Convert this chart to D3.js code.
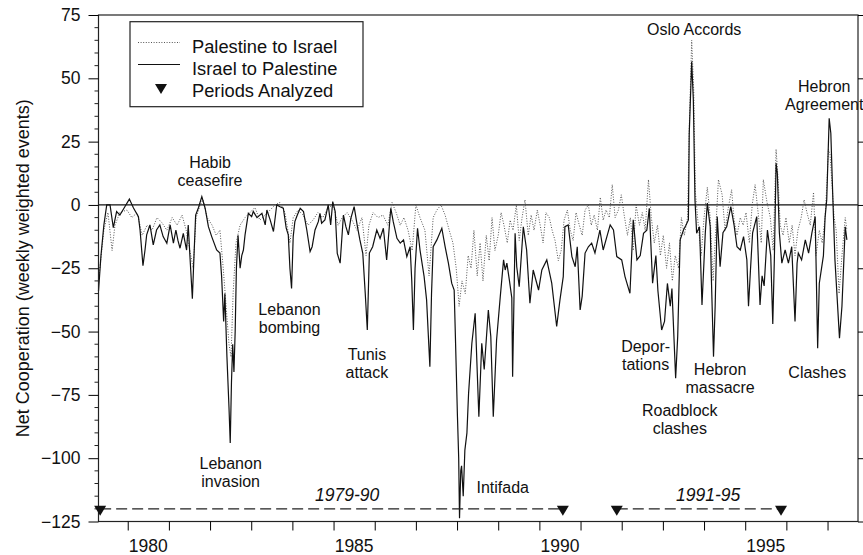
<!DOCTYPE html>
<html lang="en">
<head>
  <meta charset="UTF-8">
  <title>Net Cooperation</title>
  <script src="https://d3js.org/d3.v7.min.js"></script>
  <style>
    body { margin: 0; background: #fff; }
    text { font-family: "Liberation Sans", Arial, sans-serif; fill: #111; }
  </style>
</head>
<body>
<svg id="chart"></svg>
<script>
  // Israel to Palestine (solid) : [decimal year, net cooperation]
  const israelToPalestine = [
    [1979.29,-34],[1979.35,-20],[1979.42,-8],[1979.49,0],[1979.57,0],[1979.65,-9],[1979.73,-2.6],[1979.81,-4],
    [1979.93,-0.7],[1980.04,2.3],[1980.14,-1.2],[1980.26,-4.6],[1980.30,-10],[1980.37,-24],[1980.42,-17.8],[1980.46,-11.8],
    [1980.54,-7.9],[1980.62,-15.8],[1980.70,-9.9],[1980.78,-7.9],[1980.86,-12.5],[1980.95,-15.1],[1981.03,-7.9],[1981.11,-15.1],
    [1981.17,-9.9],[1981.22,-14],[1981.27,-17.1],[1981.35,-11.2],[1981.43,-17.8],[1981.47,-7.9],[1981.51,-20],[1981.57,-37],
    [1981.61,-20],[1981.65,-4],[1981.72,-1],[1981.80,3.3],[1981.88,-1.3],[1981.96,-8.6],[1982.04,-12.5],[1982.16,-17.8],
    [1982.24,-19],[1982.28,-28],[1982.33,-46],[1982.36,-35],[1982.41,-60],[1982.46,-80],[1982.49,-94],[1982.52,-70],
    [1982.55,-55],[1982.58,-66],[1982.61,-50],[1982.64,-25],[1982.68,-12],[1982.73,-25],[1982.77,-20],[1982.81,-17.8],
    [1982.85,-11.8],[1982.93,-3.3],[1983.01,-4.6],[1983.05,-2.6],[1983.14,-5],[1983.26,-3.3],[1983.34,-7.9],[1983.38,-2],
    [1983.46,-5.9],[1983.54,-10.5],[1983.62,0],[1983.70,-0.7],[1983.78,-1.3],[1983.85,-9.2],[1983.90,-11.8],[1983.94,-25],
    [1983.98,-33],[1984.02,-12.5],[1984.06,-6.6],[1984.12,-4],[1984.19,-1.3],[1984.27,-2.6],[1984.35,-9.9],[1984.43,-18.4],
    [1984.48,-16.5],[1984.55,-9.9],[1984.63,-6.6],[1984.67,-3.3],[1984.71,-7.2],[1984.79,-5.9],[1984.87,0],[1984.93,-7.9],
    [1984.98,1.3],[1985.04,-2.6],[1985.09,-19.1],[1985.16,-23],[1985.24,-4],[1985.30,-8.6],[1985.36,-11.8],[1985.42,-5.3],
    [1985.50,-0.7],[1985.58,-8.6],[1985.64,-13.8],[1985.71,-19.1],[1985.77,-35],[1985.82,-49.4],[1985.87,-19],[1985.95,-16.5],
    [1986.05,-9.9],[1986.13,-13.2],[1986.21,-9.2],[1986.29,-21.7],[1986.39,-1.3],[1986.45,-6.6],[1986.54,-13.2],[1986.62,-15.1],
    [1986.70,-13.8],[1986.78,-20.4],[1986.86,-16.5],[1986.90,-30],[1986.94,-49.4],[1986.98,-25],[1987.04,-9.2],[1987.10,-17.8],
    [1987.20,-28.3],[1987.26,-37.5],[1987.34,-63.9],[1987.38,-35],[1987.42,-16.5],[1987.51,-13.8],[1987.63,-9.2],[1987.71,-16.5],
    [1987.79,-23],[1987.87,-30.9],[1987.93,-33.6],[1987.96,-52],[1988.01,-83.6],[1988.04,-100],[1988.06,-123.7],[1988.09,-105],
    [1988.11,-103],[1988.15,-115],[1988.19,-96.8],[1988.24,-90],[1988.28,-74.4],[1988.36,-54.6],[1988.44,-42.8],[1988.48,-61.2],
    [1988.53,-83.6],[1988.60,-54.6],[1988.66,-65],[1988.76,-41.5],[1988.82,-52],[1988.88,-83.6],[1988.96,-53.3],[1989.05,-36.2],
    [1989.13,-21.7],[1989.17,-25.7],[1989.21,-23],[1989.27,-29.6],[1989.33,-36.7],[1989.35,-67.8],[1989.41,-11.2],[1989.45,-24.4],
    [1989.51,-32.3],[1989.61,-8.6],[1989.69,-17.8],[1989.77,-38.8],[1989.85,-25.7],[1989.98,-33.6],[1990.06,-25.7],[1990.18,-21.7],
    [1990.30,-30.9],[1990.42,-48],[1990.50,-37.5],[1990.58,-28.3],[1990.62,-8.6],[1990.70,-7.9],[1990.79,-20.4],[1990.87,-24.4],
    [1990.92,-16.5],[1990.99,-41.5],[1991.04,-36],[1991.11,-19],[1991.19,-16.5],[1991.27,-15.1],[1991.35,-19],[1991.47,-9.9],
    [1991.55,-17.8],[1991.64,-12.5],[1991.72,-7.9],[1991.80,-9.9],[1991.88,-20.4],[1992.00,-21.7],[1992.08,-28.3],[1992.20,-34.9],
    [1992.28,-5.9],[1992.37,-21.7],[1992.45,-20],[1992.53,-11.2],[1992.61,-10],[1992.67,-1.3],[1992.75,-30.9],[1992.83,-20],
    [1992.88,-34],[1992.97,-49.4],[1993.04,-46],[1993.11,-31],[1993.18,-40],[1993.22,-33],[1993.31,-68.4],[1993.36,-52],
    [1993.42,-13.8],[1993.50,-9.9],[1993.56,-8],[1993.62,-5.9],[1993.64,28],[1993.70,56.6],[1993.74,41.5],[1993.78,2],
    [1993.82,-11.2],[1993.89,-8.6],[1993.95,-39.5],[1994.03,-11.2],[1994.08,0.7],[1994.15,-8.6],[1994.18,-30],[1994.23,-59.9],
    [1994.27,-40],[1994.32,-4.6],[1994.39,-24.4],[1994.46,-11],[1994.55,-8.6],[1994.65,-0.7],[1994.73,-8],[1994.80,-16.5],
    [1994.88,-17.8],[1994.96,-12.5],[1995.04,-21.7],[1995.08,-40],[1995.13,-25],[1995.18,-11],[1995.28,-4.6],[1995.36,-39.5],
    [1995.41,-28],[1995.46,-32],[1995.54,-9.9],[1995.62,-20],[1995.67,-47],[1995.71,-20],[1995.75,16.5],[1995.78,12.5],
    [1995.83,-11],[1995.89,-23],[1995.97,-17.8],[1996.05,-23],[1996.13,-16.5],[1996.21,-46],[1996.26,-23],[1996.29,-19],
    [1996.37,-21.7],[1996.46,-13.8],[1996.54,-19],[1996.62,-11],[1996.70,-4.6],[1996.76,-56.6],[1996.80,-30.9],[1996.90,-20],
    [1996.94,-5],[1996.98,2],[1997.04,34.2],[1997.08,28.3],[1997.13,2],[1997.18,-21.7],[1997.29,-52.6],[1997.35,-40],
    [1997.43,-8.6],[1997.47,-13.8]
  ];

  // Palestine to Israel (dotted)
  const palestineToIsrael = [
    [1979.29,-30],[1979.42,-10],[1979.52,-3],[1979.62,-18],[1979.69,-8],[1979.81,-3],[1979.98,-2],[1980.10,-5],
    [1980.23,-3],[1980.35,-12],[1980.47,-8],[1980.59,-10],[1980.71,-5],[1980.83,-7],[1980.95,-10],[1981.08,-5],
    [1981.20,-8],[1981.32,-4],[1981.42,-10],[1981.51,-18],[1981.59,-25],[1981.66,-5],[1981.76,0],[1981.83,2],
    [1981.93,-5],[1982.05,-8],[1982.15,-12],[1982.24,-10],[1982.32,-25],[1982.39,-40],[1982.46,-55],[1982.51,-60],
    [1982.56,-35],[1982.63,-15],[1982.73,-8],[1982.85,-5],[1982.97,-3],[1983.09,-1],[1983.21,-6],[1983.34,-4],
    [1983.46,-2],[1983.58,0],[1983.70,1],[1983.82,-3],[1983.94,-15],[1984.02,-5],[1984.14,-2],[1984.26,-4],
    [1984.38,-8],[1984.50,-6],[1984.62,-3],[1984.74,-5],[1984.87,-1],[1984.99,0],[1985.11,-8],[1985.21,-5],
    [1985.33,-3],[1985.45,-6],[1985.57,-10],[1985.69,-5],[1985.79,-20],[1985.86,-8],[1985.96,-3],[1986.08,-5],
    [1986.20,-4],[1986.32,-8],[1986.42,1],[1986.52,-3],[1986.62,-8],[1986.71,-5],[1986.81,-10],[1986.91,-18],
    [1987.00,0],[1987.10,-5],[1987.22,-10],[1987.32,-28],[1987.42,-5],[1987.51,-2],[1987.61,0],[1987.71,-4],
    [1987.81,-10],[1987.90,-15],[1987.98,-25],[1988.05,-40],[1988.12,-30],[1988.20,-35],[1988.27,-20],[1988.34,-25],
    [1988.41,-10],[1988.49,-28],[1988.56,-15],[1988.63,-30],[1988.71,-12],[1988.78,-22],[1988.85,-5],[1988.92,-18],
    [1989.00,-12],[1989.07,-3],[1989.14,-8],[1989.22,-15],[1989.29,-6],[1989.36,-10],[1989.44,0],[1989.51,-14],
    [1989.58,-5],[1989.65,2],[1989.73,-12],[1989.80,-4],[1989.87,-10],[1989.95,-2],[1990.02,-8],[1990.09,-15],
    [1990.16,-3],[1990.24,-5],[1990.31,-10],[1990.38,-14],[1990.46,-22],[1990.53,-18],[1990.60,-6],[1990.68,-2],
    [1990.75,-10],[1990.82,-14],[1990.89,-3],[1990.97,-8],[1991.04,-12],[1991.11,-2],[1991.19,0],[1991.26,-8],
    [1991.33,-4],[1991.41,-10],[1991.48,3],[1991.55,-6],[1991.62,-2],[1991.70,-5],[1991.77,8],[1991.84,-5],
    [1991.92,-2],[1991.99,4],[1992.06,-4],[1992.14,-12],[1992.21,-5],[1992.28,-18],[1992.35,0],[1992.43,-8],
    [1992.50,-3],[1992.57,-10],[1992.65,10],[1992.72,-5],[1992.79,-15],[1992.87,-8],[1992.94,-20],[1993.01,-12],
    [1993.09,-25],[1993.16,-15],[1993.23,-30],[1993.30,-20],[1993.38,-25],[1993.45,-5],[1993.52,-12],[1993.60,-5],
    [1993.64,30],[1993.70,65],[1993.75,45],[1993.79,5],[1993.86,-8],[1993.93,-20],[1994.00,-5],[1994.08,7],
    [1994.15,-5],[1994.22,-30],[1994.29,-8],[1994.35,10],[1994.44,4],[1994.51,-10],[1994.58,-2],[1994.67,6],
    [1994.73,-6],[1994.80,-12],[1994.88,-5],[1994.95,-8],[1995.02,-3],[1995.10,-15],[1995.17,0],[1995.24,8],
    [1995.32,-4],[1995.39,-15],[1995.44,10],[1995.53,1],[1995.61,-5],[1995.68,-18],[1995.75,22],[1995.80,10],
    [1995.85,-8],[1995.92,-12],[1995.99,-5],[1996.07,-15],[1996.14,-8],[1996.21,-20],[1996.28,-10],[1996.36,-5],
    [1996.43,2],[1996.50,-3],[1996.58,-8],[1996.66,5],[1996.72,-20],[1996.80,-10],[1996.87,-15],[1996.94,-5],
    [1996.99,10],[1997.02,22],[1997.06,20],[1997.11,8],[1997.16,-5],[1997.21,-10],[1997.28,-35],[1997.35,-20],
    [1997.43,-5],[1997.47,-10]
  ];

  const yearTicks = d3.range(1980, 1998);
  const yearLabels = [1980, 1985, 1990, 1995];
  const valueTicks = [75, 50, 25, 0, -25, -50, -75, -100, -125];

  // periods analyzed, drawn on the -120 level
  const periods = [
    { label: "1979-90", start: 1979.33, end: 1990.57, labelAt: 1985.33 },
    { label: "1991-95", start: 1991.88, end: 1995.87, labelAt: 1994.10 }
  ];
  const periodLevel = -120;

  // event notes: text lines, anchor year, anchor value
  const notes = [
    { lines: ["Habib", "ceasefire"], year: 1982.00, value: 16.6 },
    { lines: ["Lebanon", "invasion"], year: 1982.50, value: -101.9 },
    { lines: ["Lebanon", "bombing"], year: 1983.93, value: -41.2 },
    { lines: ["Tunis", "attack"], year: 1985.81, value: -59.2 },
    { lines: ["Intifada"], year: 1989.11, value: -111.5 },
    { lines: ["Oslo Accords"], year: 1993.76, value: 69.4 },
    { lines: ["Hebron", "Agreement"], year: 1996.92, value: 47.0 },
    { lines: ["Depor-", "tations"], year: 1992.58, value: -56.0 },
    { lines: ["Hebron", "massacre"], year: 1994.39, value: -64.9 },
    { lines: ["Roadblock", "clashes"], year: 1993.41, value: -81.2 },
    { lines: ["Clashes"], year: 1996.75, value: -66.1 }
  ];

  const W = 863, H = 555;
  const margin = { top: 15, right: 5, bottom: 33.5, left: 98.5 };

  const svg = d3.select("#chart").attr("width", W).attr("height", H);

  const x = d3.scaleLinear().domain([1979.29, 1997.74]).range([margin.left, W - margin.right]);
  const y = d3.scaleLinear().domain([-125, 75]).range([H - margin.bottom, margin.top]);

  // zero reference line
  svg.append("line")
    .attr("x1", x.range()[0]).attr("x2", x.range()[1])
    .attr("y1", y(0)).attr("y2", y(0))
    .attr("stroke", "#111").attr("stroke-width", 1.2);

  const line = d3.line().x(d => x(d[0])).y(d => y(d[1]));

  svg.append("path")
    .datum(palestineToIsrael)
    .attr("d", line)
    .attr("fill", "none")
    .attr("stroke", "#555")
    .attr("stroke-width", 1)
    .attr("stroke-dasharray", "1,1.6");

  svg.append("path")
    .datum(israelToPalestine)
    .attr("d", line)
    .attr("fill", "none")
    .attr("stroke", "#111")
    .attr("stroke-width", 1.2);

  // frame
  svg.append("rect")
    .attr("x", x.range()[0]).attr("y", y.range()[1])
    .attr("width", x.range()[1] - x.range()[0])
    .attr("height", y.range()[0] - y.range()[1])
    .attr("fill", "none").attr("stroke", "#222").attr("stroke-width", 1.2);

  // left axis
  const yAxis = svg.append("g")
    .attr("transform", "translate(" + margin.left + ",0)")
    .call(d3.axisLeft(y).tickValues(valueTicks).tickSize(10).tickPadding(8));
  yAxis.select(".domain").remove();
  yAxis.selectAll("text").style("font-size", "17.5px").attr("fill", "#111");

  // minor ticks every 5
  svg.append("g").selectAll("line")
    .data(d3.range(-125, 76, 5).filter(v => v % 25 !== 0))
    .join("line")
    .attr("x1", margin.left - 4).attr("x2", margin.left)
    .attr("y1", d => y(d)).attr("y2", d => y(d))
    .attr("stroke", "#222");

  // right axis (outer ticks only)
  const yRight = svg.append("g")
    .attr("transform", "translate(" + (W - margin.right) + ",0)")
    .call(d3.axisRight(y).tickValues(valueTicks).tickSize(6).tickFormat(""));
  yRight.select(".domain").remove();

  // bottom axis: ticks on year boundaries, labels centered in the year
  const xAxis = svg.append("g")
    .attr("transform", "translate(0," + (H - margin.bottom) + ")")
    .call(d3.axisBottom(x).tickValues(yearTicks).tickSize(9).tickFormat(""));
  xAxis.select(".domain").remove();

  svg.append("g").selectAll("text")
    .data(yearLabels)
    .join("text")
    .attr("x", d => x(d + 0.5))
    .attr("y", H - margin.bottom + 30)
    .attr("text-anchor", "middle")
    .style("font-size", "17.5px")
    .text(d => d);

  // y axis title
  svg.append("text")
    .attr("transform", "translate(23," + y(-25) + ") rotate(-90)")
    .attr("text-anchor", "middle")
    .attr("dy", "0.35em")
    .style("font-size", "18px")
    .text("Net Cooperation (weekly weighted events)");

  // periods analyzed
  const tri = "M-6,-3L6,-3L0,7Z";
  periods.forEach(p => {
    svg.append("line")
      .attr("x1", x(p.start)).attr("x2", x(p.end))
      .attr("y1", y(periodLevel)).attr("y2", y(periodLevel))
      .attr("stroke", "#222").attr("stroke-width", 1.2)
      .attr("stroke-dasharray", "11,5");
    [p.start, p.end].forEach(t => {
      svg.append("path")
        .attr("d", tri)
        .attr("transform", "translate(" + x(t) + "," + y(periodLevel) + ")")
        .attr("fill", "#111");
    });
    svg.append("text")
      .attr("x", x(p.labelAt))
      .attr("y", y(periodLevel) - 14)
      .attr("dy", "0.35em")
      .attr("text-anchor", "middle")
      .style("font-size", "17.5px")
      .style("font-style", "italic")
      .text(p.label);
  });

  // event notes
  notes.forEach(n => {
    const t = svg.append("text")
      .attr("x", x(n.year))
      .attr("y", y(n.value))
      .attr("text-anchor", "middle")
      .style("font-size", "16px");
    n.lines.forEach((s, i) => {
      t.append("tspan")
        .attr("x", x(n.year))
        .attr("dy", i === 0 ? "0.35em" : "18px")
        .text(s);
    });
  });

  // legend
  const lg = svg.append("g");
  lg.append("rect")
    .attr("x", 130).attr("y", 21.7).attr("width", 233).attr("height", 85)
    .attr("fill", "#fff").attr("stroke", "#222").attr("stroke-width", 1.2);
  const items = [
    { label: "Palestine to Israel", kind: "dot" },
    { label: "Israel to Palestine", kind: "solid" },
    { label: "Periods Analyzed", kind: "tri" }
  ];
  items.forEach((it, i) => {
    const cy = 44 + i * 22;
    if (it.kind === "tri") {
      lg.append("path").attr("d", tri).attr("transform", "translate(161," + (cy - 1) + ")").attr("fill", "#111");
    } else {
      lg.append("line")
        .attr("x1", 138).attr("x2", 180).attr("y1", cy - 1.5).attr("y2", cy - 1.5)
        .attr("stroke", it.kind === "dot" ? "#555" : "#111")
        .attr("stroke-width", it.kind === "dot" ? 1 : 1.2)
        .attr("stroke-dasharray", it.kind === "dot" ? "1,1.6" : null);
    }
    lg.append("text")
      .attr("x", 192).attr("y", cy + 2.5).attr("dy", "0.35em")
      .style("font-size", "18.3px")
      .text(it.label);
  });
</script>
</body>
</html>
